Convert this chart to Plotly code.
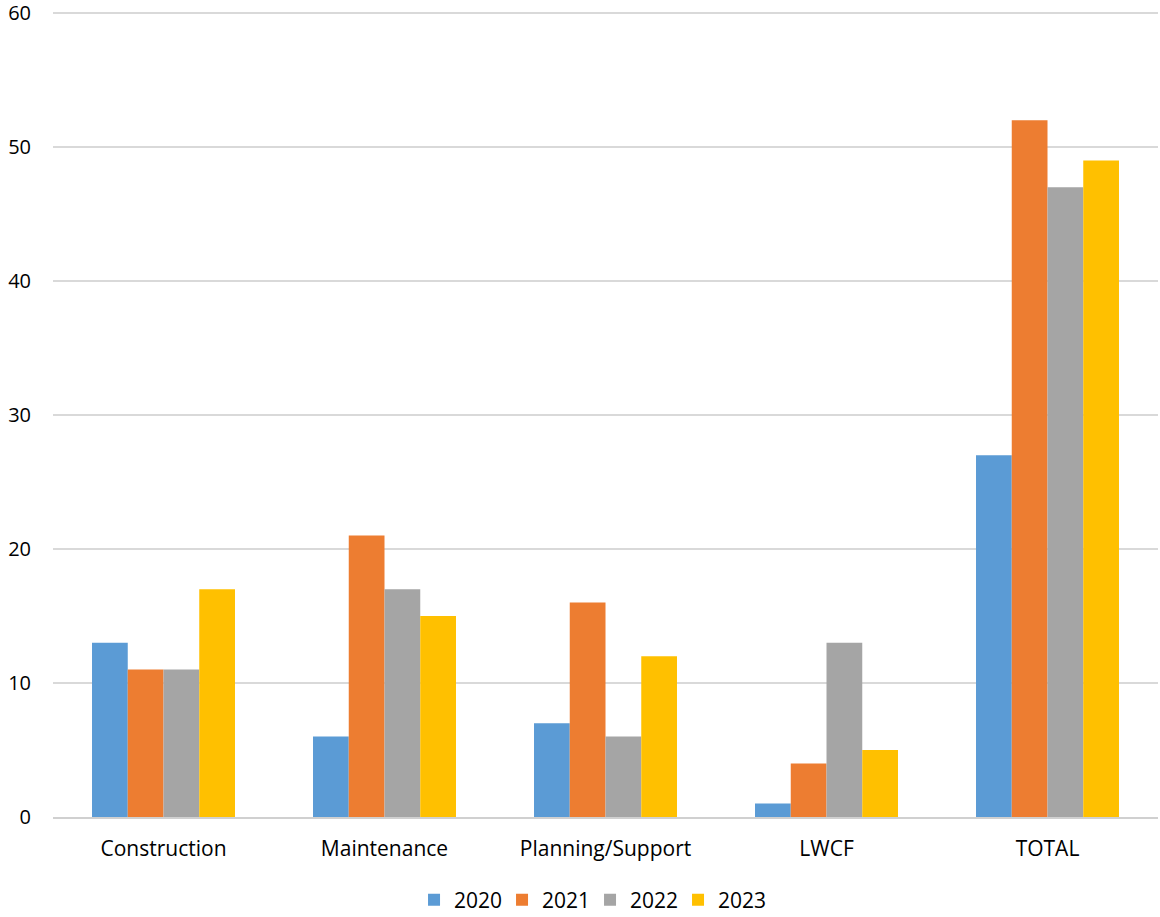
import plotly.graph_objects as go

categories = ["Construction", "Maintenance", "Planning/Support", "LWCF", "TOTAL"]
years = ["2020", "2021", "2022", "2023"]
v2020 = [13, 6, 7, 1, 27]
v2021 = [11, 21, 16, 4, 52]
v2022 = [11, 17, 6, 13, 47]
v2023 = [17, 15, 12, 5, 49]
series = [v2020, v2021, v2022, v2023]
colors = ["#5B9BD5", "#ED7D31", "#A5A5A5", "#FFC000"]

fig = go.Figure()
for name, vals, c in zip(years, series, colors):
    fig.add_trace(go.Bar(x=categories, y=vals, name=name, marker_color=c, marker_line_width=0))

fig.update_layout(
    width=1160, height=917,
    margin=dict(l=53, r=2, t=11, b=100, autoexpand=False),
    paper_bgcolor="white", plot_bgcolor="white",
    barmode="group", bargap=0.353, bargroupgap=0,
    font=dict(family="Open Sans, Lato, sans-serif", size=21, color="#000000"),
    legend=dict(orientation="h", x=0.486, xanchor="center", y=-0.103, yanchor="middle",
                font=dict(size=21), itemwidth=30, traceorder="normal",
                entrywidth=43, entrywidthmode="pixels"),
    xaxis=dict(showgrid=False, showline=True, linecolor="#D0D0D0", linewidth=1.5,
               automargin=False,
               ticks="outside", ticklen=12, tickcolor="rgba(0,0,0,0)", tickfont=dict(size=21)),
    yaxis=dict(range=[0, 60.15], tickvals=[0, 10, 20, 30, 40, 50, 60], showgrid=True,
               gridcolor="#D9D9D9", gridwidth=1.5, ticklabeloverflow="allow", automargin=False,
               zeroline=False, showline=False, ticks="outside", ticklen=17,
               tickcolor="rgba(0,0,0,0)", tickfont=dict(size=20)),
)
fig.write_html("out.html", config={"displayModeBar": False},
               post_script="document.body.style.margin='0';")
